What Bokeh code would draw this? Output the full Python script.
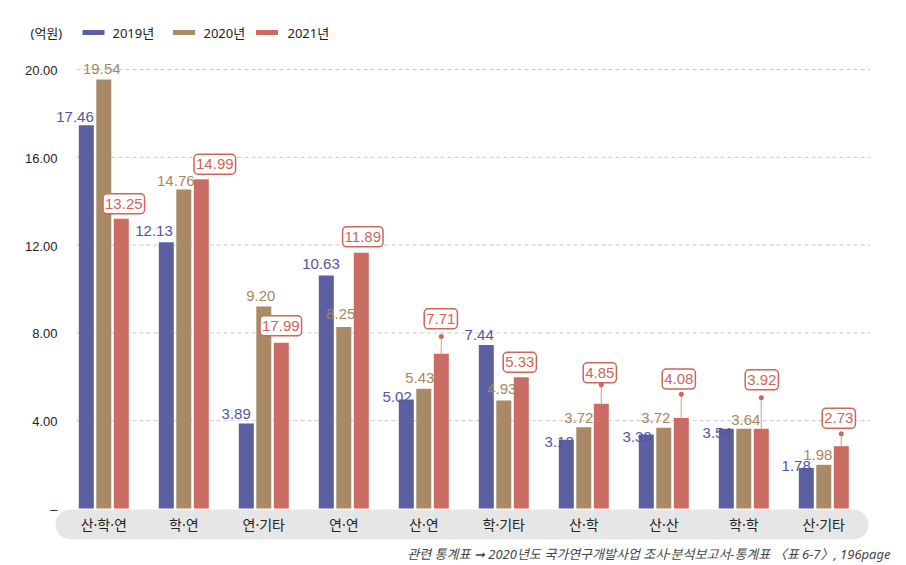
from bokeh.plotting import figure
from bokeh.models import ColumnDataSource, Range1d
from bokeh.core.properties import value
from bokeh.embed import file_html
from bokeh.resources import INLINE

# ---------------- data ----------------
categories = ["산·학·연", "학·연", "연·기타", "연·연", "산·연", "학·기타", "산·학", "산·산", "학·학", "산·기타"]
series = ["2019년", "2020년", "2021년"]
# bar heights as drawn (억원)
bar2019 = [17.46, 12.13, 3.87, 10.61, 4.97, 7.45, 3.13, 3.37, 3.63, 1.85]
bar2020 = [19.54, 14.53, 9.20, 8.27, 5.45, 4.92, 3.70, 3.68, 3.63, 1.99]
bar2021 = [13.20, 15.00, 7.55, 11.65, 7.05, 5.98, 4.77, 4.12, 3.63, 2.84]
# value labels as printed
lab2019 = ["17.46", "12.13", "3.89", "10.63", "5.02", "7.44", "3.12", "3.39", "3.54", "1.78"]
lab2020 = ["19.54", "14.76", "9.20", "8.25", "5.43", "4.93", "3.72", "3.72", "3.64", "1.98"]
lab2021 = ["13.25", "14.99", "17.99", "11.89", "7.71", "5.33", "4.85", "4.08", "3.92", "2.73"]
# leader-line tips of the 2021 labels (None = no leader)
tip2021 = [None, None, None, None, 7.84, None, 5.64, 5.21, 5.05, 3.40]
yticks = [0, 4, 8, 12, 16, 20]
ytick_labels = ["–", "4.00", "8.00", "12.00", "16.00", "20.00"]
unit_label = "(억원)"
footnote = "관련 통계표 ➞ 2020년도 국가연구개발사업 조사·분석보고서-통계표 〈표 6-7〉, 196page"

# ---------------- styles / layout ----------------
C_BLUE, C_BROWN, C_RED = "#5d5fa3", "#a98a67", "#c96c61"
T_BLUE, T_BROWN, T_RED = "#52559c", "#a7875f", "#cd665b"
NUM_FONT = "Liberation Sans"
KR_FONT = "Noto Sans, Noto Sans CJK KR"

# per-label pixel offsets (relative to group centre / bar top)
dx19 = [-10, -11, -13, -4, -12, -10, -10, -12, -12, -13]
dy19 = [-8, -11, -10, -12, -2, -10, 2, 2, 4, -2]
dx20 = [-2, -8, -3, -3, -4, -2, -5, -8, 2, -6]
dy20 = [-11, -9, -11, -13, -11, -12, -9, -10, -9, -10]
dx21 = [20, 31, 17, 19, 17, 16, 16, 15, 18, 15]
dy21 = [-15, -15, -17, -16, -35, -15, -31, -39, -49, -28]

W, H = 906, 565
PAGE = 0
X0, GP = 103.3, 80.0      # page x of first group centre, px per group
Y0, UP = 508.0, 21.95     # page y of value 0, px per unit


def cx(px):
    return (px - X0) / GP


def cy(py):
    return (Y0 - py) / UP


x_range = Range1d(cx(PAGE), cx(PAGE + W))
y_range = Range1d(cy(PAGE + H), cy(PAGE))

p = figure(width=W, height=H, x_range=x_range, y_range=y_range,
           output_backend="svg", toolbar_location=None,
           x_axis_location=None, y_axis_location=None,
           min_border=0, outline_line_color=None)
p.grid.grid_line_color = None

idx = list(range(len(categories)))
OFF = 17.5 / GP
BW = 15 / GP

# gridlines
gx0, gx1 = cx(76), cx(870)
p.segment(x0=[gx0] * 5, x1=[gx1] * 5, y0=yticks[1:], y1=yticks[1:],
          line_color="#c9c9c9", line_width=1, line_dash="4 3")

# y tick labels
p.text(x=[cx(57)] * len(yticks), y=yticks, text=ytick_labels, y_offset=1,
       text_align="right", text_baseline="middle",
       text_font=value("Liberation Sans"), text_font_size="13px", text_color="#222222")

# category band
p.rect(x=[cx(461.5)], y=[cy(524)], width=813 / GP, height=30 / UP,
       fill_color="#e6e6e6", line_color=None, border_radius=15)

# bars
src = ColumnDataSource(dict(
    x19=[i - OFF for i in idx], x20=idx, x21=[i + OFF for i in idx],
    b19=bar2019, b20=bar2020, b21=bar2021,
))
p.vbar(x="x19", top="b19", bottom=0, width=BW, source=src, fill_color=C_BLUE, line_color=None)
p.vbar(x="x20", top="b20", bottom=0, width=BW, source=src, fill_color=C_BROWN, line_color=None)
p.vbar(x="x21", top="b21", bottom=0, width=BW, source=src, fill_color=C_RED, line_color=None)

# leader lines
lx = [i + OFF for i, t in zip(idx, tip2021) if t is not None]
ly0 = [b for b, t in zip(bar2021, tip2021) if t is not None]
ly1 = [t for t in tip2021 if t is not None]
p.segment(x0=lx, x1=lx, y0=ly0, y1=ly1, line_color="#e3a59c", line_width=1.2)
p.scatter(x=lx, y=ly1, size=5, fill_color=T_RED, line_color=None)

# value labels
p.text(x=idx, y=bar2019, text=lab2019, x_offset=dx19, y_offset=dy19,
       text_align="right", text_baseline="middle", text_font=value(NUM_FONT),
       text_font_size="15px", text_color=T_BLUE)
p.text(x=idx, y=bar2020, text=lab2020, x_offset=dx20, y_offset=dy20,
       text_align="center", text_baseline="middle", text_font=value(NUM_FONT),
       text_font_size="15px", text_color=T_BROWN)
p.text(x=idx, y=bar2021, text=lab2021, x_offset=dx21, y_offset=dy21,
       text_align="center", text_baseline="middle", text_font=value(NUM_FONT),
       text_font_size="15px", text_color=T_RED,
       background_fill_color="white", border_line_color=T_RED,
       border_line_width=1.5, border_radius=4, padding=(2, 5))

# category labels
p.text(x=idx, y=[cy(524)] * len(idx), text=categories,
       text_align="center", text_baseline="middle", text_font=value(KR_FONT),
       text_font_size="14px", text_color="#222222")

# legend
p.rect(x=[cx(93), cx(183.5), cx(266.5)], y=[cy(32)] * 3, width=22 / GP, height=5 / UP,
       fill_color=[C_BLUE, C_BROWN, C_RED], line_color=None)
p.text(x=[cx(112), cx(203), cx(287)], y=[cy(32)] * 3, text=series,
       text_align="left", text_baseline="middle", text_font=value(KR_FONT),
       text_font_size="13px", text_color="#222222")
p.text(x=[cx(30)], y=[cy(32)], text=[unit_label],
       text_align="left", text_baseline="middle", text_font=value(KR_FONT),
       text_font_size="13px", text_color="#222222")

# footnote
p.text(x=[cx(890)], y=[cy(553)], text=[footnote],
       text_align="right", text_baseline="middle", text_font=value(KR_FONT),
       text_font_style="italic", text_font_size="13px", text_color="#444444")

open("out.html", "w").write(file_html(p, INLINE))
